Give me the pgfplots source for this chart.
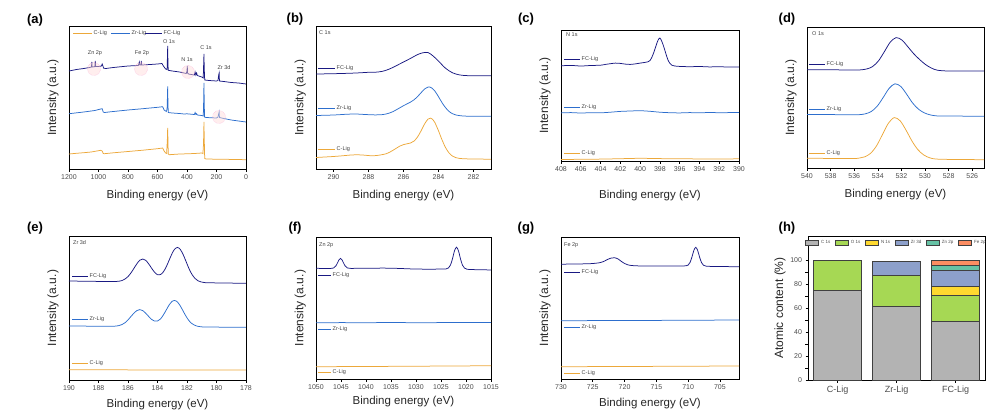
\documentclass[border=0pt]{standalone}
\usepackage{pgfplots}
\pgfplotsset{compat=1.18}
\usepackage{fontspec}
\setmainfont{Liberation Sans}
\definecolor{cC}{RGB}{236,168,58}
\definecolor{cZr}{RGB}{45,110,205}
\definecolor{cFC}{RGB}{25,25,130}
\definecolor{gC}{HTML}{B3B3B3}
\definecolor{gO}{HTML}{A6D854}
\definecolor{gN}{HTML}{FFD92F}
\definecolor{gZr}{HTML}{8DA0CB}
\definecolor{gZn}{HTML}{66C2A5}
\definecolor{gFe}{HTML}{FC8D62}
\newcommand{\fs}[1]{\fontsize{#1}{#1}\selectfont}
\pgfplotsset{
  base/.style={scale only axis, anchor=north west, tick align=outside, major tick length=2.5pt,
    axis line style={line width=0.8pt}, tick style={line width=0.6pt, black},
    tick label style={font=\fs{7}, text=black!70},
    /pgf/number format/assume math mode=true, /pgf/number format/1000 sep={},
    label style={font=\fs{11.5}, text=black!85}},
  spec/.style={base, width=177pt, height=#1pt, ymin=0, ymax=#1, x dir=reverse, ytick=\empty,
    xtick pos=bottom, xlabel={Binding energy (eV)}, ylabel={Intensity (a.u.)},
    y label style={at={(axis description cs:-0.09,0.5)}, anchor=center, font=\fs{12}},
    every axis plot/.append style={line width=0.75pt, no marks}},
  xlp/.style={x label style={at={(axis description cs:0.5,#1)}, anchor=center}}
}
\begin{document}
\begin{tikzpicture}
\path[use as bounding box] (0,0) rectangle (999pt,-416pt);
% (a) survey
\begin{axis}[spec=143, at={(69pt,-26pt)}, xmin=0, xmax=1200, xtick={0,200,...,1200}, xlp=-0.182]
\addplot[cC] coordinates {(1200,15) (1150,15.7) (1100,16.3) (1050,17) (1000,18.3) (985,18.7) (975,18) (968,15.5) (960,15.3) (900,16.2) (800,17.5) (700,18.8) (600,20.3) (565,21) (555,18) (545,16) (538,15.5) (533,30) (531,41) (529,28) (527,15) (520,14.3) (500,14.5) (450,15) (400,15.2) (350,15.5) (300,16) (292,15.5) (288,25) (285,47) (283,30) (280,10.5) (270,10) (200,9.8) (100,9.6) (0,9.3)};
\addplot[cZr] coordinates {(1200,55.3) (1100,57) (1025,58.5) (985,60) (975,60.3) (968,57) (960,56.5) (900,57.5) (800,59) (700,60.3) (600,61.7) (565,62.3) (555,59) (540,57.5) (535,60) (532,75) (531,82.7) (529,65) (527,56.5) (500,56) (450,55.5) (420,55) (400,55.2) (350,54.5) (345,56.5) (340,54.5) (335,55.3) (330,54) (300,53.5) (290,53) (288,60) (285,86) (283,65) (281,52) (270,51.5) (200,51) (190,52) (182,57) (180,51.5) (150,50.5) (100,49) (50,48) (0,47)};
\addplot[cFC] coordinates {(1200,98) (1150,99.5) (1100,100.5) (1060,101.5) (1048,102) (1045,107) (1043,102) (1025,102.3) (1022,108) (1019,102.5) (1000,102.5) (980,103) (975,105) (970,103) (965,100.8) (950,100.5) (900,101.5) (800,103) (730,103.5) (723,107) (720,104) (712,104) (710,108) (707,104) (650,104.5) (600,105) (570,105.5) (560,103) (545,100) (535,99.5) (532,115) (531,123) (529,105) (527,98.7) (500,98) (450,97) (420,96) (405,95.5) (400,98) (398,103) (396,96) (390,95) (350,94) (345,97) (340,94) (335,96) (330,93.5) (300,92) (290,91) (288,100) (285,115) (283,100) (280,89) (250,88.5) (200,88) (190,88.5) (185,94) (182,96) (180,88) (150,87.5) (100,86.5) (50,86) (0,85)};
\end{axis}
% (b) C 1s
\begin{axis}[spec=143, width=175pt, at={(316pt,-26pt)}, xmin=281, xmax=291, xtick={282,284,...,290}, xlp=-0.182]
\addplot[cC, smooth] coordinates {(291,11.5) (290.5,12) (290,12.5) (289.5,13.2) (289,14) (288.6,14.2) (288.2,13.8) (287.8,13.2) (287.4,13.8) (287,15.2) (286.8,16.7) (286.6,18.7) (286.4,20.9) (286.2,23) (286,24.4) (285.8,25.2) (285.6,26) (285.4,27.9) (285.2,32) (285,38) (284.8,44.9) (284.6,49.9) (284.45,50.9) (284.3,48.9) (284.2,46.2) (284,38.2) (283.8,29.2) (283.6,21.5) (283.4,16.1) (283.2,12.9) (283,11.3) (282.8,10.6) (282.5,10.2) (282,10) (281,9.8)};
\addplot[cZr, smooth] coordinates {(291,53.5) (290,54) (289.2,54.8) (288.7,55) (288.2,54.5) (287.6,54.1) (287.2,54.4) (287,55) (286.8,56) (286.6,57.4) (286.4,59.3) (286.2,61.3) (286,63.3) (285.8,65.1) (285.6,66.9) (285.4,69.2) (285.2,72.4) (285,76.2) (284.8,79.9) (284.6,81.9) (284.5,82) (284.4,81.2) (284.2,77.8) (284,72.3) (283.8,66.4) (283.6,61.4) (283.4,57.6) (283.2,55.3) (283,54) (282.8,53.4) (282.5,52.9) (282,52.8) (281,52.7)};
\addplot[cFC, smooth] coordinates {(291,95) (290,95.3) (289,95.8) (288.5,96.2) (288,96.7) (287.6,96.8) (287.2,97.7) (286.8,100) (286.4,103.4) (286,107) (285.6,110.6) (285.2,114.4) (284.9,116.2) (284.6,116.5) (284.3,112.9) (284,107.9) (283.6,100.8) (283.2,96.2) (282.8,94.1) (282.4,93.4) (282,93.3) (281,93.3)};
\end{axis}
% (c) N 1s
\begin{axis}[spec=131, width=178pt, at={(561pt,-30pt)}, xmin=390, xmax=408, xtick={390,392,...,408}, xlp=-0.26]
\addplot[cC, smooth] coordinates {(408,1.5) (406,1.7) (404,1.9) (402,2.3) (400,2.7) (398,2.4) (396,2.2) (394,2.1) (392,2.0) (390,2.2)};
\addplot[cZr, smooth] coordinates {(408,48.1) (407,48.4) (406,48.0) (405,48.3) (404,48.2) (403,48.8) (402,49.6) (401,50.0) (400,50.3) (399,49.7) (398,48.8) (397,48.3) (396,48.1) (395,48.4) (394,48.2) (393,48.5) (392,48.3) (391,48.4) (390,48.5)};
\addplot[cFC, smooth] coordinates {(408,95.2) (407,95.6) (406,95.0) (405,95.5) (404,95.8) (403.5,96.6) (403,97.3) (402.5,97.9) (402,97.6) (401.5,96.9) (401,96.6) (400.5,97.1) (400,97.9) (399.5,98.6) (399.2,99.2) (399,100.5) (398.8,104) (398.6,109) (398.4,115) (398.2,120.5) (398,123) (397.8,119.5) (397.6,114) (397.4,107.5) (397.2,101.5) (397,97.8) (396.8,95.8) (396.5,95) (396,94.6) (395,94.3) (394,94.5) (393,94.1) (392,94.3) (391,93.9) (390,94.1)};
\end{axis}
% (d) O 1s
\begin{axis}[spec=141, at={(807pt,-27pt)}, xmin=525, xmax=540, xtick={526,528,...,540}, xlp=-0.19]
\addplot[cC, smooth] coordinates {(540,9.7) (538,9.6) (536,9.5) (535.5,10.1) (535.1,11.2) (534.6,14.8) (534.1,22.3) (533.6,33.6) (533.1,44.8) (532.6,50.4) (532.1,47.1) (531.6,37.7) (531.1,26.9) (530.6,18.3) (530.1,13) (529.6,10.2) (529.1,9) (528,8.6) (526,8.4) (525,8.3)};
\addplot[cZr, smooth] coordinates {(540,53.5) (538,53.4) (536,53.3) (535.5,53.4) (535.05,54.2) (534.55,56.5) (534.05,61.8) (533.55,70.4) (533.05,79.5) (532.55,84.2) (532.05,81.5) (531.55,73.7) (531.05,65) (530.55,58.8) (530.05,55.1) (529.55,53.1) (529,52.1) (528,52) (526,51.8) (525,51.7)};
\addplot[cFC, smooth] coordinates {(540,98.3) (538,98.2) (536,98) (535.5,98.1) (534.95,99) (534.45,101.4) (533.95,107) (533.45,116.2) (532.95,125.8) (532.45,130.4) (531.95,127.9) (531.45,121.2) (530.95,114.2) (530.45,108.4) (529.95,103.4) (529.45,99.9) (528.95,97.8) (528,97) (526,97) (525,97)};
\end{axis}
% (e) Zr 3d
\begin{axis}[spec=144, at={(69pt,-236pt)}, xmin=178, xmax=190, xtick={178,180,...,190}, xlp=-0.167]
\addplot[cC] coordinates {(190,10.2) (178,10)};
\addplot[cZr, smooth] coordinates {(190,54) (188,53.8) (187,53.7) (186.6,54.5) (186.4,55.5) (186.2,57.3) (186,60.1) (185.8,63.5) (185.6,66.8) (185.4,69.4) (185.2,70.4) (185,69.4) (184.8,66.8) (184.6,63.6) (184.4,60.6) (184.2,58.9) (184,59) (183.8,61) (183.6,65.1) (183.4,70.2) (183.2,75.3) (183,78.8) (182.85,79.6) (182.7,78.7) (182.5,75.2) (182.3,70) (182.1,64.6) (181.9,60) (181.7,56.8) (181.5,54.9) (181.3,53.8) (181.1,53.3) (180.8,53) (180,52.9) (179,52.8) (178,52.7)};
\addplot[cFC, smooth] coordinates {(190,99) (188,98.6) (187,98.5) (186.6,98.8) (186.4,99.5) (186.2,101) (186,103.4) (185.8,107.1) (185.6,111.6) (185.4,116.2) (185.2,119.8) (185,121) (184.8,119.7) (184.6,116.2) (184.4,111.8) (184.2,107.8) (184,105.3) (183.8,105.4) (183.6,108.2) (183.4,113.4) (183.2,120.2) (183,126.9) (182.85,130.6) (182.65,132.6) (182.45,130.5) (182.25,125.1) (182.05,118) (181.85,110.9) (181.65,105.3) (181.45,101.5) (181.25,99.2) (181.05,98.1) (180.8,97.4) (180,97.1) (179,96.9) (178,96.7)};
\end{axis}
% (f) Zn 2p
\begin{axis}[spec=142, width=175pt, at={(316pt,-237pt)}, xmin=1015, xmax=1050, xtick={1015,1020,...,1050}, xlp=-0.162]
\addplot[cC] coordinates {(1050,12.3) (1040,12.5) (1030,12.8) (1020,13.1) (1015,13.3)};
\addplot[cZr] coordinates {(1050,56.2) (1045,56.4) (1040,56.3) (1035,56.5) (1030,56.3) (1025,56.4) (1020,56.6) (1015,56.5)};
\addplot[cFC, smooth] coordinates {(1050,110.7) (1048,110.5) (1047,110.6) (1046.5,111) (1046,113.2) (1045.7,116.1) (1045.4,119.2) (1045.1,120.6) (1044.8,119.2) (1044.5,116.1) (1044.2,113.2) (1043.7,111) (1043,110.6) (1041,110.8) (1039,110.7) (1037,110.9) (1035,110.8) (1033,110.5) (1031,110.1) (1029,109.9) (1027,109.8) (1025,110) (1024,110.1) (1023.5,111.1) (1023.1,114) (1022.7,120.3) (1022.3,128.2) (1021.9,131.8) (1021.5,128.1) (1021.1,120.1) (1020.7,113.8) (1020.3,110.9) (1019.8,109.8) (1019,109.5) (1017,109.2) (1015,109.1)};
\end{axis}
% (g) Fe 2p
\begin{axis}[spec=142, width=178pt, at={(561pt,-237pt)}, xmin=702, xmax=730, xtick={705,710,...,730}, xlp=-0.176]
\addplot[cC] coordinates {(730,12.3) (720,12.5) (710,12.8) (702,13)};
\addplot[cZr] coordinates {(730,58.3) (725,58.4) (720,58.6) (715,58.6) (710,58.8) (705,58.9) (702,59)};
\addplot[cFC, smooth] coordinates {(730,114.8) (728,115) (726,115.2) (725,115.5) (724,116.2) (723.3,117.5) (722.7,119.5) (722.2,120.8) (721.6,121.3) (721,120) (720.5,117.6) (720,115.5) (719.4,114) (718.5,113.3) (717,113) (715,113.1) (713,112.9) (711,113) (710.3,113.3) (710,113.9) (709.7,116.6) (709.4,122) (709.1,128.6) (708.8,131.7) (708.5,128.5) (708.2,121.9) (707.9,116.5) (707.6,113.8) (707.2,112.9) (706,112.5) (704,112.4) (702,112.3)};
\end{axis}
% (h) atomic content
\begin{axis}[base, width=177pt, height=144pt, at={(808pt,-236pt)}, ybar stacked, bar width=48pt,
  xmin=-0.5, xmax=2.5, ymin=0, ymax=120, xtick={0,1,2}, xticklabels={C-Lig,Zr-Lig,FC-Lig},
  ytick={0,20,...,100}, minor y tick num=1, xtick pos=bottom, ytick pos=left,
  x tick label style={font=\fs{9}}, ylabel={Atomic content (\%)},
  y label style={at={(axis description cs:-0.158,0.5)}, anchor=center, font=\fs{12}},
  legend columns=6,
  legend style={at={(0.5,0.985)}, anchor=north, draw=none, fill=none, font=\fs{4.5}, text=black!70, inner sep=0pt,
    /tikz/every even column/.append style={column sep=3pt}},
  legend image code/.code={\draw[#1] (0pt,-2.5pt) rectangle (13pt,2.5pt);}]
\addplot[fill=gC, draw=black!75, line width=0.6pt] coordinates {(0,75) (1,61.1) (2,48.6)};
\addplot[fill=gO, draw=black!75, line width=0.6pt] coordinates {(0,25) (1,25.8) (2,22.2)};
\addplot[fill=gN, draw=black!75, line width=0.6pt] coordinates {(0,0) (1,0) (2,7)};
\addplot[fill=gZr, draw=black!75, line width=0.6pt] coordinates {(0,0) (1,12) (2,13.3)};
\addplot[fill=gZn, draw=black!75, line width=0.6pt] coordinates {(0,0) (1,0) (2,4.7)};
\addplot[fill=gFe, draw=black!75, line width=0.6pt] coordinates {(0,0) (1,0) (2,3.9)};
\legend{C 1s, O 1s, N 1s, Zr 3d, Zn 2p, Fe 2p}
\end{axis}
% decorations
\begin{scope}[x=1pt, y=-1pt, every node/.style={inner sep=0pt}]
\foreach \t/\x/\y in {(a)/35/20, (b)/295/19, (c)/526/19, (d)/787/19, (e)/35/228, (f)/295/228, (g)/526/228, (h)/787/228}
  \node[font=\bfseries\fs{13}] at (\x,\y) {\t};
% (a) legend
\draw[cC, line width=0.75pt] (73,33) -- (92,33); \node[anchor=west, font=\fs{5.5}, text=black!75] at (93.5,33) {C-Lig};
\draw[cZr, line width=0.75pt] (111,33) -- (130,33); \node[anchor=west, font=\fs{5.5}, text=black!75] at (131.5,33) {Zr-Lig};
\draw[cFC, line width=0.75pt] (145,33) -- (162,33); \node[anchor=west, font=\fs{5.5}, text=black!75] at (163.5,33) {FC-Lig};
% (a) peak labels and circles
\foreach \t/\x/\y in {Zn 2p/95/53, Fe 2p/142/53, O 1s/169/42, N 1s/187/60, C 1s/206/48, Zr 3d/224/68}
  \node[font=\fs{5.5}, text=black!75] at (\x,\y) {\t};
\foreach \x/\y in {94/69, 141/69, 188/72, 219/117}
  \draw[densely dotted, draw=magenta!40, fill=pink!60, fill opacity=0.45] (\x,\y) circle (6.5);
% in-plot labels
\foreach \t/\x/\y in {C 1s/319/33, N 1s/566/35, O 1s/812/34, Zr 3d/73/243, Zn 2p/319/245, Fe 2p/564/245}
  \node[anchor=west, font=\fs{5.5}, text=black!75] at (\x,\y) {\t};
\foreach \xa/\xb/\yf/\yz/\yc in {318/335/68/108/149, 564/580/59/107/153, 809/825/64/109/153, 72/88/276/319/363, 318/331/275/329/372, 564/580/272/327/373}{
  \draw[cFC, line width=0.75pt] (\xa,\yf) -- (\xb,\yf); \node[anchor=west, font=\fs{5.5}, text=black!75] at (\xb+1.5,\yf) {FC-Lig};
  \draw[cZr, line width=0.75pt] (\xa,\yz) -- (\xb,\yz); \node[anchor=west, font=\fs{5.5}, text=black!75] at (\xb+1.5,\yz) {Zr-Lig};
  \draw[cC, line width=0.75pt] (\xa,\yc) -- (\xb,\yc); \node[anchor=west, font=\fs{5.5}, text=black!75] at (\xb+1.5,\yc) {C-Lig};
}
\end{scope}
\end{tikzpicture}
\end{document}
